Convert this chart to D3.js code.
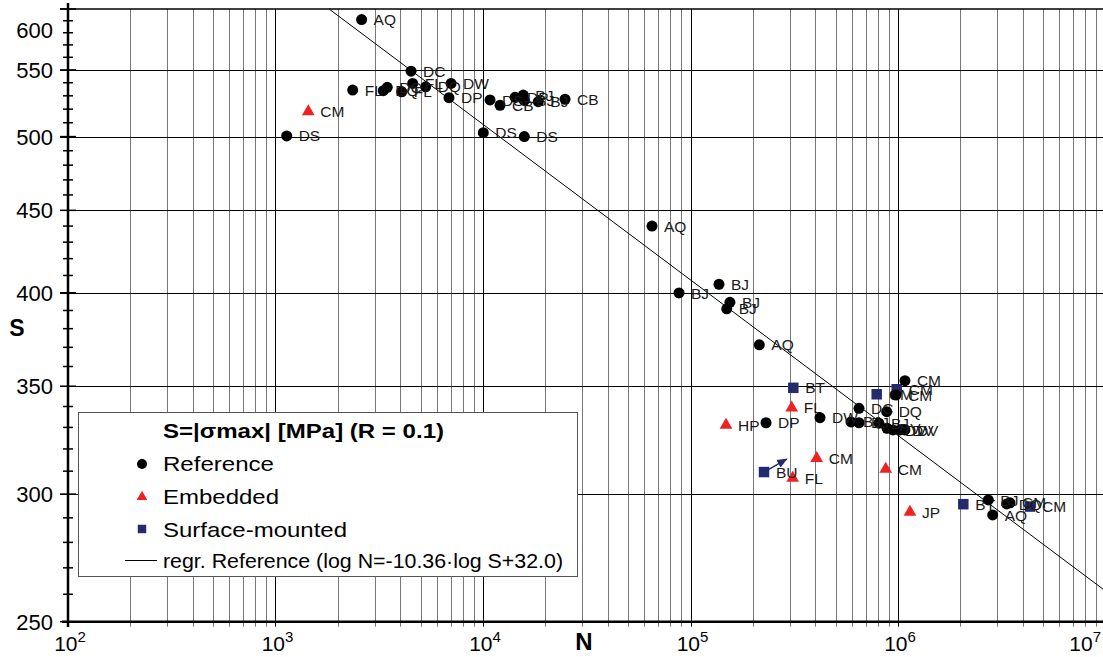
<!DOCTYPE html>
<html>
<head>
<meta charset="utf-8">
<script src="https://cdn.jsdelivr.net/npm/d3@7"></script>
<style>
  body { margin: 0; background: #fff; }
  svg text { font-family: "Liberation Sans", Arial, Helvetica, sans-serif; }
</style>
</head>
<body>
<script>
var width = 1103, height = 657;

// Reference specimens (circles)
var refN = [2600, 4500, 2355, 3307, 3457, 4057, 4583, 5294, 7014, 6855,
  10807, 12078, 14266, 15642, 15814, 18475, 24850, 1132, 10033, 15814,
  65236, 137200, 154900, 149500, 88050, 214600, 231200, 420900, 648600, 882000,
  593600, 648600, 809700, 885000, 946200, 1022000, 1080000, 1080000, 978000,
  2724000, 2860000, 3340000, 3465000];
var refS = [591, 549, 534.4, 533.9, 536.5, 533.1, 539.5, 536.9, 539.5, 528.6,
  526.9, 522.9, 528.9, 530.6, 526.5, 525.6, 527.4, 500.5, 502.8, 500,
  440, 404.9, 394.6, 390.9, 399.9, 371.3, 332.2, 334.6, 339.1, 337.5,
  332.6, 332.2, 332, 329.6, 328.8, 328.8, 328.8, 352.8, 345.6,
  297.5, 291.2, 295.8, 296.3];
var refLabel = ['AQ', 'DC', 'FL', 'DQ', 'DC', 'FL', 'FL', 'DQ', 'DW', 'DP',
  'DS', 'CB', 'DP', 'BJ', 'BJ', 'BJ', 'CB', 'DS', 'DS', 'DS',
  'AQ', 'BJ', 'BJ', 'BJ', 'BJ', 'AQ', 'DP', 'DW', 'DC', 'DQ',
  'BJ', 'BJ', 'BJ', 'DV', 'DV', 'DV', 'DV', 'CM', 'CM',
  'BJ', 'AQ', 'DQ', 'CM'];

// Embedded (triangles)
var embN = [1439, 148300, 307400, 405700, 310800, 872400, 1142000];
var embS = [518.2, 331.1, 339.4, 315.7, 306.9, 310.9, 292.4];
var embLabel = ['CM', 'HP', 'FL', 'CM', 'FL', 'CM', 'JP'];

// Surface-mounted (squares)
var surfN = [312900, 226100, 789500, 985600, 2064000, 4326000];
var surfS = [349.2, 309.6, 346, 348.5, 295.7, 294.7];
var surfLabel = ['BT', 'BU', 'CM', 'CM', 'BT', 'CM'];

// arrow on the BU specimen
var arrowN = [226100, 290800];
var arrowS = [309.6, 315.4];

// regression: log N = regSlope * log S + regIntercept
var regSlope = -10.36, regIntercept = 32.04;

var yTicks = [250, 300, 350, 400, 450, 500, 550, 600];
var xDecades = [2, 3, 4, 5, 6, 7];

var legendTitle = 'S=|\u03c3max| [MPa] (R = 0.1)';
var legendItems = ['Reference', 'Embedded', 'Surface-mounted'];
var legendRegr = 'regr. Reference (log N=-10.36\u00b7log S+32.0)';

var x = d3.scaleLog().domain([1e2, 1e7]).range([68, 1105.5]);
var y = d3.scaleLog().domain([250, 600]).range([621.7, 9]);

var svg = d3.select('body').append('svg').attr('width', width).attr('height', height);

// vertical grid
var gridN = [];
for (var d = 2; d < 7; d++) {
  for (var m = 1; m < 10; m++) gridN.push(m * Math.pow(10, d));
}
gridN.push(1e7);
svg.append('g').selectAll('line').data(gridN).join('line')
  .attr('x1', function(d) { return Math.round(x(d)) + 0.5; })
  .attr('x2', function(d) { return Math.round(x(d)) + 0.5; })
  .attr('y1', y(600)).attr('y2', y(250) + 5)
  .attr('stroke', function(d) {
    var r = d / Math.pow(10, Math.floor(Math.log10(d) + 1e-9));
    return Math.abs(r - 1) < 1e-6 ? '#000' : '#787878';
  })
  .attr('stroke-width', 1);

// horizontal grid
svg.append('g').selectAll('line').data(yTicks.filter(function(v) { return v > 250 && v < 600; })).join('line')
  .attr('x1', 60).attr('x2', width)
  .attr('y1', function(d) { return Math.round(y(d)) + 0.5; })
  .attr('y2', function(d) { return Math.round(y(d)) + 0.5; })
  .attr('stroke', '#000').attr('stroke-width', 1);

// top border
svg.append('line').attr('x1', 60).attr('x2', width)
  .attr('y1', y(600)).attr('y2', y(600)).attr('stroke', '#000').attr('stroke-width', 1.5);

// y minor ticks
var yMinor = d3.range(260, 600, 10).filter(function(v) { return v % 50 !== 0; });
svg.append('g').selectAll('line').data(yMinor).join('line')
  .attr('x1', 63).attr('x2', 73)
  .attr('y1', function(d) { return y(d); }).attr('y2', function(d) { return y(d); })
  .attr('stroke', '#000').attr('stroke-width', 1.5);
svg.append('g').selectAll('line').data(yTicks).join('line')
  .attr('x1', 60).attr('x2', 76)
  .attr('y1', function(d) { return y(d); }).attr('y2', function(d) { return y(d); })
  .attr('stroke', '#000').attr('stroke-width', 1.5);

// axes lines
svg.append('line').attr('x1', 68).attr('x2', 68).attr('y1', 3).attr('y2', 627)
  .attr('stroke', '#000').attr('stroke-width', 2.5);
svg.append('line').attr('x1', 62).attr('x2', width).attr('y1', y(250)).attr('y2', y(250))
  .attr('stroke', '#000').attr('stroke-width', 2.5);

// y tick labels
svg.append('g').selectAll('text').data(yTicks).join('text')
  .attr('x', 53)
  .attr('y', function(d) { return d === 600 ? 30 : y(d); })
  .attr('dy', '0.36em')
  .attr('text-anchor', 'end')
  .attr('font-size', 22)
  .text(function(d) { return d; });

// x tick labels 10^k
var xl = svg.append('g').selectAll('text').data(xDecades).join('text')
  .attr('x', function(d) { return d === 7 ? 1101 : x(Math.pow(10, d)) + 2; })
  .attr('y', 651)
  .attr('text-anchor', function(d) { return d === 7 ? 'end' : 'middle'; })
  .attr('font-size', 21);
xl.append('tspan').text('10');
xl.append('tspan').attr('dy', -9).attr('font-size', 15).text(function(d) { return d; });

// axis titles
svg.append('text').attr('x', 17).attr('y', 336).attr('text-anchor', 'middle')
  .attr('font-size', 23).attr('font-weight', 'bold').text('S');
svg.append('text').attr('x', 584).attr('y', 650).attr('text-anchor', 'middle')
  .attr('font-size', 24).attr('font-weight', 'bold').text('N');

// regression line
var sTop = 600, nEnd = 1e7;
var regLine = [
  [Math.pow(10, regSlope * Math.log10(sTop) + regIntercept), sTop],
  [nEnd, Math.pow(10, (Math.log10(nEnd) - regIntercept) / regSlope)]
];
svg.append('path')
  .attr('d', d3.line().x(function(d) { return x(d[0]); }).y(function(d) { return y(d[1]); })(regLine))
  .attr('stroke', '#000').attr('stroke-width', 1).attr('fill', 'none');

// legend box
var lg = svg.append('g');
lg.append('rect').attr('x', 78.5).attr('y', 412.5).attr('width', 499).attr('height', 164)
  .attr('fill', '#fff').attr('stroke', '#555').attr('stroke-width', 1);
lg.append('text').attr('x', 163).attr('y', 438).attr('font-size', 21).attr('font-weight', 'bold')
  .attr('textLength', 281).attr('lengthAdjust', 'spacingAndGlyphs').text(legendTitle);
var itemY = [471, 503.5, 537];
var itemW = [111, 116, 184];
lg.selectAll('text.item').data(legendItems).join('text').attr('class', 'item')
  .attr('x', 163).attr('y', function(d, i) { return itemY[i]; })
  .attr('font-size', 21)
  .attr('textLength', function(d, i) { return itemW[i]; })
  .attr('lengthAdjust', 'spacingAndGlyphs')
  .text(function(d) { return d; });
lg.append('circle').attr('cx', 142).attr('cy', 464).attr('r', 5).attr('fill', '#000');
lg.append('path').attr('d', d3.symbol(d3.symbolTriangle, 50)())
  .attr('transform', 'translate(142,497)').attr('fill', '#ee2222');
lg.append('path').attr('d', d3.symbol(d3.symbolSquare, 72)())
  .attr('transform', 'translate(142,529)').attr('fill', '#232a6e');
lg.append('line').attr('x1', 125).attr('x2', 157).attr('y1', 560.5).attr('y2', 560.5)
  .attr('stroke', '#000').attr('stroke-width', 1);
lg.append('text').attr('x', 163).attr('y', 568).attr('font-size', 20)
  .attr('textLength', 400).attr('lengthAdjust', 'spacingAndGlyphs').text(legendRegr);

// point series
function series(ns, ss, labels, kind) {
  var data = ns.map(function(n, i) { return { n: n, s: ss[i], label: labels[i] }; });
  var g = svg.append('g');
  if (kind === 'circle') {
    g.selectAll('circle').data(data).join('circle')
      .attr('cx', function(d) { return x(d.n); })
      .attr('cy', function(d) { return y(d.s); })
      .attr('r', 5.5).attr('fill', '#000');
  } else {
    var sym = kind === 'triangle' ? d3.symbol(d3.symbolTriangle, 70) : d3.symbol(d3.symbolSquare, 110);
    g.selectAll('path').data(data).join('path')
      .attr('d', sym())
      .attr('transform', function(d) { return 'translate(' + x(d.n) + ',' + y(d.s) + ')'; })
      .attr('fill', kind === 'triangle' ? '#ee2222' : '#232a6e');
  }
  g.selectAll('text').data(data).join('text')
    .attr('x', function(d) { return x(d.n) + 12; })
    .attr('y', function(d) { return y(d.s); })
    .attr('dy', '0.36em')
    .attr('font-size', 15.5)
    .attr('fill', '#1a1a1a')
    .text(function(d) { return d.label; });
}

// arrow marker
svg.append('defs').append('marker').attr('id', 'ah')
  .attr('viewBox', '0 0 10 10').attr('refX', 9).attr('refY', 5)
  .attr('markerWidth', 7).attr('markerHeight', 7).attr('orient', 'auto')
  .append('path').attr('d', 'M0,1 L10,5 L0,9 z').attr('fill', '#232a6e');
svg.append('line')
  .attr('x1', x(arrowN[0])).attr('y1', y(arrowS[0]))
  .attr('x2', x(arrowN[1])).attr('y2', y(arrowS[1]))
  .attr('stroke', '#232a6e').attr('stroke-width', 1.5).attr('marker-end', 'url(#ah)');

series(embN, embS, embLabel, 'triangle');
series(surfN, surfS, surfLabel, 'square');
series(refN, refS, refLabel, 'circle');
</script>
</body>
</html>
